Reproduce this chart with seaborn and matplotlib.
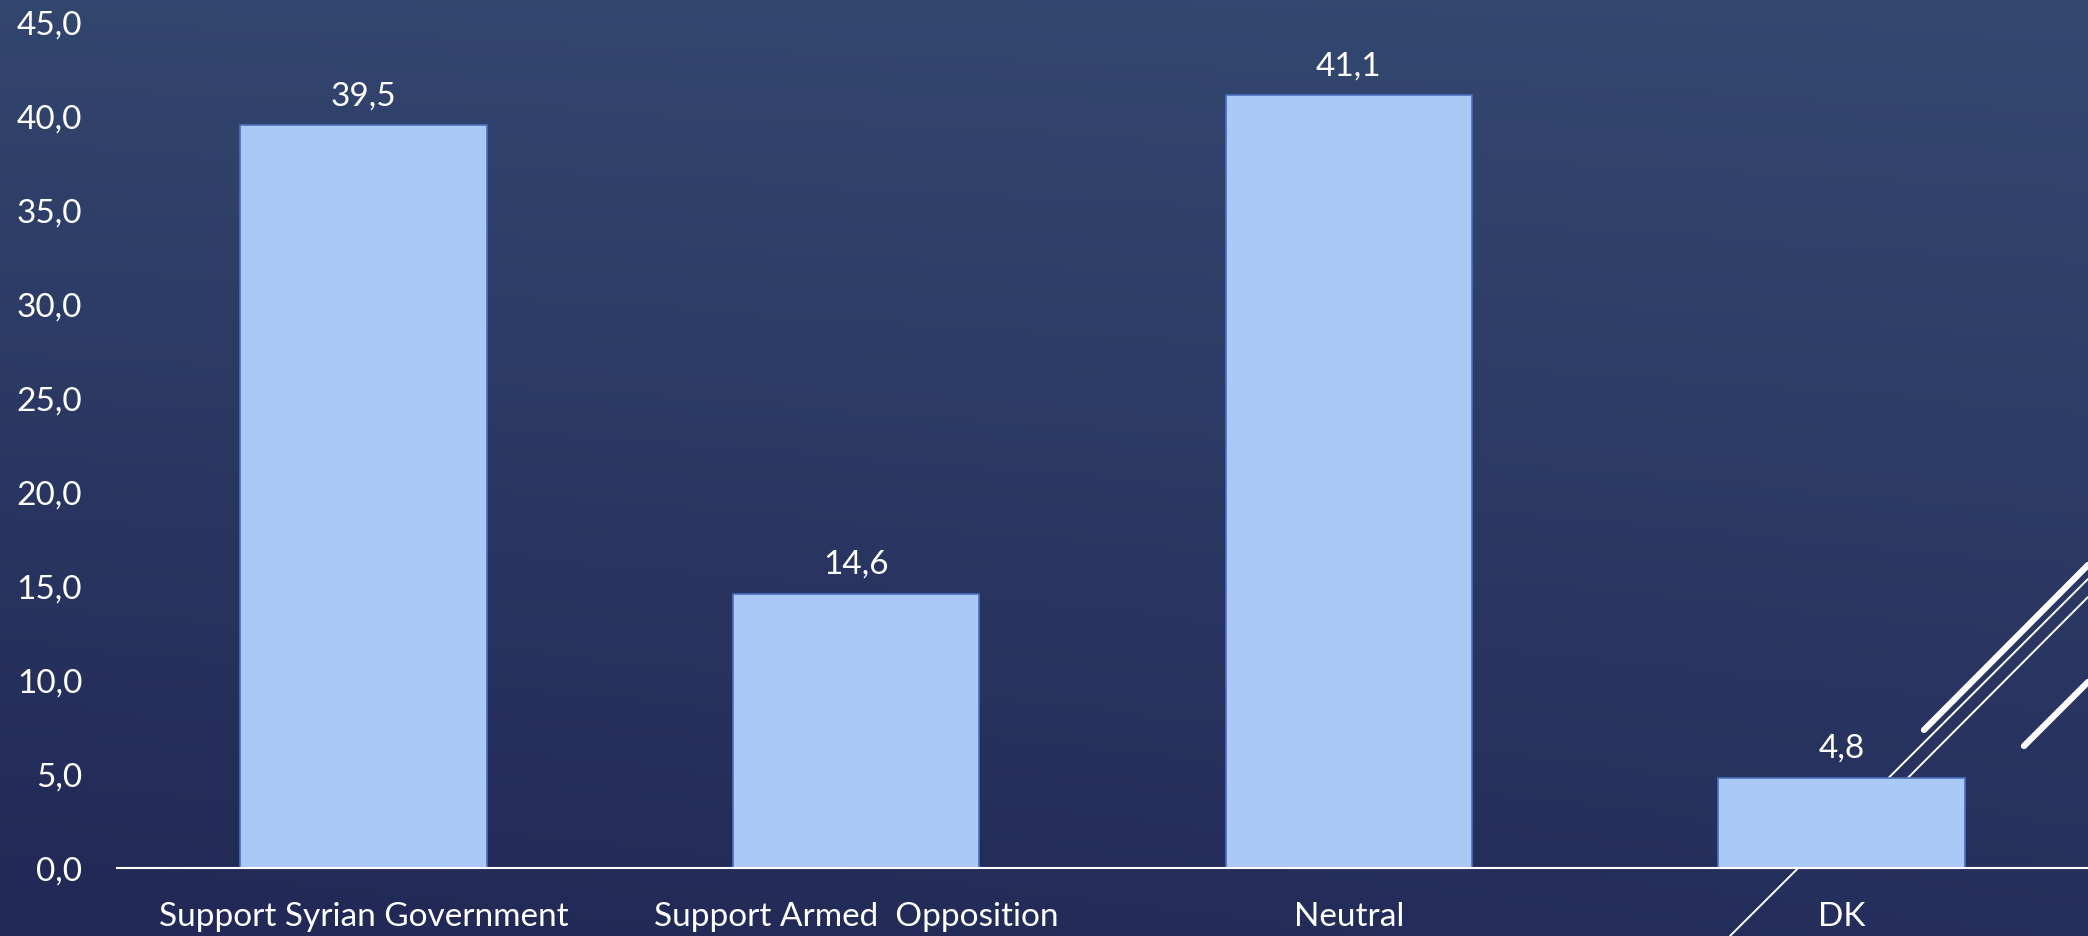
import numpy as np
import matplotlib
matplotlib.use('Agg')
import matplotlib.pyplot as plt
from matplotlib.lines import Line2D
from matplotlib.ticker import FuncFormatter
import seaborn as sns

# data
categories = ["Support Syrian Government", "Support Armed  Opposition", "Neutral", "DK"]
values = [39.5, 14.6, 41.1, 4.8]
y_ticks = [0, 5, 10, 15, 20, 25, 30, 35, 40, 45]

W, H = 2088, 937
sns.set_theme(style="white")
plt.rcParams['font.family'] = ['Lato', 'DejaVu Sans']

fig = plt.figure(figsize=(W / 100, H / 100), dpi=100)

# slide background gradient (lighter top-right, darker bottom)
bg = fig.add_axes([0, 0, 1, 1], zorder=-10)
yy, xx = np.mgrid[0:1:200j, 0:1:400j]
t = np.clip(0.8 * yy + 0.25 * (1 - xx) * (0.3 + 0.7 * yy), 0, 1)
top = np.array([52, 72, 112]) / 255
bottom = np.array([34, 41, 86]) / 255
img = top[None, None, :] * (1 - t[..., None]) + bottom[None, None, :] * t[..., None]
bg.imshow(img, aspect='auto', extent=[0, 1, 0, 1], origin='upper')
bg.axis('off')

# decorative diagonal lines (figure pixels)
def deco(x0, y0, x1, y1, lw, z):
    fig.add_artist(Line2D([x0 / W, x1 / W], [1 - y0 / H, 1 - y1 / H], color='white',
                          lw=lw, solid_capstyle='round', transform=fig.transFigure, zorder=z))

deco(1730, 937, 2088, 580, 1.4, -5)
deco(1860, 827, 2088, 598, 1.4, -5)
deco(1924, 731, 2088, 566, 4.5, 5)
deco(2024, 747, 2088, 683, 4.5, 5)

ax = fig.add_axes([117 / W, (H - 869) / H, (W - 117) / W, (869 - 23) / H], zorder=0)
ax.set_facecolor('none')

sns.barplot(x=categories, y=values, color='#ABC9F7', width=0.5, saturation=1,
            edgecolor='#4A6FBF', linewidth=1.2, ax=ax)

ax.set_ylim(0, 45)
ax.set_xlim(-0.5, 3.5)
ax.set_yticks(y_ticks)
ax.yaxis.set_major_formatter(FuncFormatter(lambda v, p: f"{v:.1f}".replace('.', ',')))

fs = 24
for c in ax.containers:
    ax.bar_label(c, labels=[f"{v:.1f}".replace('.', ',') for v in values],
                 padding=11, color='white', fontsize=fs)

ax.tick_params(axis='y', length=0, pad=25, labelsize=fs, labelcolor='white')
ax.tick_params(axis='x', length=0, pad=24, labelsize=fs, labelcolor='white')

for s in ['top', 'right', 'left']:
    ax.spines[s].set_visible(False)
ax.spines['bottom'].set_color('white')
ax.spines['bottom'].set_linewidth(1.5)
ax.set_xlabel('')
ax.set_ylabel('')

fig.savefig('out.png', dpi=100)
